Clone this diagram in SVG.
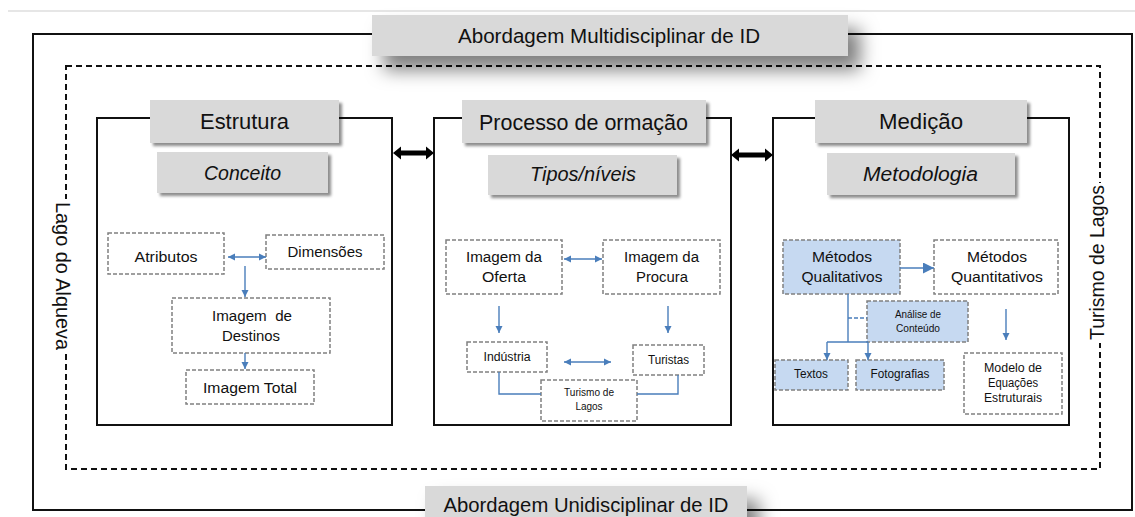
<svg xmlns="http://www.w3.org/2000/svg" width="1135" height="517" viewBox="0 0 1135 517">
<style>
text{font-family:"Liberation Sans",Arial,sans-serif;fill:#111;text-anchor:middle}
.frame{fill:none;stroke:#111;stroke-width:2}
.dashframe{fill:none;stroke:#111;stroke-width:2;stroke-dasharray:6 4}
.panel{fill:#fff;stroke:#111;stroke-width:2}
.title{fill:#d9d9d9}
.box{fill:#fff;stroke:#808080;stroke-width:1.5;stroke-dasharray:4 2}
.bbox{fill:#c6d9f1;stroke:#808080;stroke-width:1.5;stroke-dasharray:4 2}
.ln{fill:none;stroke:#4a7ebb;stroke-width:1.4}
.arr{marker-end:url(#ah)}
.dbl{marker-start:url(#ah);marker-end:url(#ah)}
.t21{font-size:21.5px}
.t20{font-size:20.5px}
.it{font-size:20px;font-style:italic}
.m{font-size:15.5px}
.s{font-size:12px}
.xs{font-size:10px}
</style>
<defs>
<marker id="ah" viewBox="0 0 10 10" refX="10" refY="5" markerWidth="7" markerHeight="8" orient="auto-start-reverse" markerUnits="userSpaceOnUse"><path d="M0,0L10,5L0,10z" fill="#4a7ebb"/></marker>
<marker id="ahb" viewBox="0 0 10 10" refX="10" refY="5" markerWidth="11" markerHeight="11" orient="auto" markerUnits="userSpaceOnUse"><path d="M0,0L10,5L0,10z" fill="#4a7ebb"/></marker>
<filter id="sh" x="-10%" y="-30%" width="130%" height="180%"><feDropShadow dx="3" dy="3" stdDeviation="1.5" flood-color="#000" flood-opacity="0.45"/></filter>
<filter id="bigsh" x="-20%" y="-60%" width="150%" height="300%"><feDropShadow dx="12" dy="14" stdDeviation="9" flood-color="#000" flood-opacity="0.5"/></filter>
</defs>
<rect x="0" y="0" width="1135" height="517" fill="#fff"/>
<line x1="8" y1="11" x2="1135" y2="11" stroke="#e6e6e6" stroke-width="2"/>
<g id="frames">
<rect class="frame" x="33" y="34" width="1099" height="476"/>
<rect class="dashframe" x="66" y="66" width="1034" height="403"/>
</g>
<g id="panel-estrutura">
<rect class="panel" x="97" y="118" width="295" height="307"/>
<rect class="title" x="150" y="100" width="189" height="43" filter="url(#sh)"/>
<text class="t21" x="244.5" y="129" textLength="89" lengthAdjust="spacingAndGlyphs">Estrutura</text>
<rect class="title" x="157" y="152" width="171" height="41" filter="url(#sh)"/>
<text class="it" x="242.5" y="180" textLength="77" lengthAdjust="spacingAndGlyphs">Conceito</text>
</g>
<g id="panel-processo">
<rect class="panel" x="434" y="118" width="297" height="307"/>
<rect class="title" x="462" y="100" width="244" height="43" filter="url(#sh)"/>
<text class="t21" x="583.5" y="130" textLength="209" lengthAdjust="spacingAndGlyphs">Processo de ormação</text>
<rect class="title" x="488" y="155" width="189" height="40" filter="url(#sh)"/>
<text class="it" x="583" y="181" textLength="106" lengthAdjust="spacingAndGlyphs">Tipos/níveis</text>
</g>
<g id="panel-medicao">
<rect class="panel" x="773" y="118" width="296" height="307"/>
<rect class="title" x="815" y="100" width="212" height="43" filter="url(#sh)"/>
<text class="t21" x="921" y="129" textLength="84" lengthAdjust="spacingAndGlyphs">Medição</text>
<rect class="title" x="827" y="153" width="188" height="42" filter="url(#sh)"/>
<text class="it" x="920.5" y="181" textLength="115" lengthAdjust="spacingAndGlyphs">Metodologia</text>
</g>
<g id="multi">
<rect class="title" x="372" y="15" width="476" height="41" filter="url(#bigsh)"/>
<text class="t20" x="609" y="43" textLength="302" lengthAdjust="spacingAndGlyphs">Abordagem Multidisciplinar de ID</text>
</g>
<g id="uni">
<rect class="title" x="425" y="486" width="322" height="40" filter="url(#bigsh)"/>
<text class="t20" x="586" y="512" textLength="285" lengthAdjust="spacingAndGlyphs">Abordagem Unidisciplinar de ID</text>
</g>
<g id="lago">
<rect x="54" y="199" width="24" height="153" fill="#fff"/>
<text font-size="20" transform="translate(63,276) rotate(90)" y="7" textLength="148" lengthAdjust="spacingAndGlyphs">Lago do Alqueva</text>
</g>
<g id="turismo-lagos">
<rect x="1086" y="183" width="24" height="160" fill="#fff"/>
<text font-size="20" transform="translate(1097,262.5) rotate(-90)" y="7" textLength="155" lengthAdjust="spacingAndGlyphs">Turismo de Lagos</text>
</g>
<g id="n-atributos"><rect class="box" x="108" y="233" width="116" height="41"/><text class="m" x="166" y="262" textLength="63" lengthAdjust="spacingAndGlyphs">Atributos</text></g>
<g id="n-dimensoes"><rect class="box" x="266" y="235" width="118" height="34"/><text class="m" x="325" y="257" textLength="75" lengthAdjust="spacingAndGlyphs">Dimensões</text></g>
<g id="n-destinos"><rect class="box" x="172" y="298" width="158" height="55"/><text class="m" x="252" y="321" textLength="80" lengthAdjust="spacingAndGlyphs" xml:space="preserve">Imagem  de</text><text class="m" x="251" y="341" textLength="58" lengthAdjust="spacingAndGlyphs">Destinos</text></g>
<g id="n-total"><rect class="box" x="186" y="370" width="128" height="34"/><text class="m" x="250" y="393" textLength="94" lengthAdjust="spacingAndGlyphs">Imagem Total</text></g>
<g id="n-oferta"><rect class="box" x="446" y="240" width="116" height="54"/><text class="m" x="504" y="262" textLength="76" lengthAdjust="spacingAndGlyphs">Imagem da</text><text class="m" x="504" y="282" textLength="44" lengthAdjust="spacingAndGlyphs">Oferta</text></g>
<g id="n-procura"><rect class="box" x="603" y="240" width="117" height="54"/><text class="m" x="661.5" y="262" textLength="75" lengthAdjust="spacingAndGlyphs">Imagem da</text><text class="m" x="662" y="282" textLength="52" lengthAdjust="spacingAndGlyphs">Procura</text></g>
<g id="n-industria"><rect class="box" x="467" y="342" width="80" height="30"/><text class="s" x="507" y="361" textLength="47" lengthAdjust="spacingAndGlyphs">Indústria</text></g>
<g id="n-turistas"><rect class="box" x="633" y="345" width="71" height="30"/><text class="s" x="668.5" y="364" textLength="41" lengthAdjust="spacingAndGlyphs">Turistas</text></g>
<g id="n-turismolagos"><rect class="box" x="541" y="380" width="96" height="41"/><text class="xs" x="589" y="396" textLength="50" lengthAdjust="spacingAndGlyphs">Turismo de</text><text class="xs" x="589" y="410">Lagos</text></g>
<g id="n-qualitativos"><rect class="bbox" x="783" y="240" width="117" height="54"/><text class="m" x="842" y="262" textLength="60" lengthAdjust="spacingAndGlyphs">Métodos</text><text class="m" x="842" y="282" textLength="81" lengthAdjust="spacingAndGlyphs">Qualitativos</text></g>
<g id="n-quantitativos"><rect class="box" x="934" y="240" width="124" height="54"/><text class="m" x="997" y="262" textLength="60" lengthAdjust="spacingAndGlyphs">Métodos</text><text class="m" x="997" y="282" textLength="92" lengthAdjust="spacingAndGlyphs">Quantitativos</text></g>
<g id="n-analise"><rect class="bbox" x="867" y="301" width="101" height="41"/><text class="xs" x="918" y="318" textLength="46" lengthAdjust="spacingAndGlyphs">Análise de</text><text class="xs" x="918" y="332" textLength="44" lengthAdjust="spacingAndGlyphs">Conteúdo</text></g>
<g id="n-textos"><rect class="bbox" x="775" y="360" width="73" height="30"/><text class="s" x="811" y="378" textLength="34" lengthAdjust="spacingAndGlyphs">Textos</text></g>
<g id="n-fotografias"><rect class="bbox" x="856" y="360" width="88" height="30"/><text class="s" x="900" y="378" textLength="59" lengthAdjust="spacingAndGlyphs">Fotografias</text></g>
<g id="n-modelo"><rect class="box" x="964" y="353" width="98" height="61"/><text class="s" x="1013" y="372" textLength="58" lengthAdjust="spacingAndGlyphs">Modelo de</text><text class="s" x="1013" y="387" textLength="50" lengthAdjust="spacingAndGlyphs">Equações</text><text class="s" x="1013" y="402" textLength="58" lengthAdjust="spacingAndGlyphs">Estruturais</text></g>
<g id="connectors">
<polygon fill="#000" points="393,153 401,146.5 401,150.5 426,150.5 426,146.5 434,153 426,159.5 426,155.5 401,155.5 401,159.5"/>
<polygon fill="#000" points="731,155 739,148.5 739,152.5 765,152.5 765,148.5 773,155 765,161.5 765,157.5 739,157.5 739,161.5"/>
<line class="ln dbl" x1="228" y1="257" x2="266" y2="257"/>
<line class="ln arr" x1="245" y1="266" x2="245" y2="297"/>
<line class="ln arr" x1="245" y1="353" x2="245" y2="369"/>
<line class="ln dbl" x1="564" y1="259" x2="602" y2="259"/>
<line class="ln arr" x1="499" y1="306" x2="499" y2="333"/>
<line class="ln arr" x1="668" y1="306" x2="668" y2="333"/>
<line class="ln dbl" x1="564" y1="362" x2="611" y2="362"/>
<polyline class="ln" points="499,372 499,394 541,394"/>
<polyline class="ln" points="678,375 678,394 637,394"/>
<line class="ln" x1="900" y1="268" x2="934" y2="268" marker-end="url(#ahb)"/>
<line class="ln" x1="848" y1="294" x2="848" y2="342"/>
<line class="ln" x1="848" y1="318" x2="867" y2="318" stroke-dasharray="4 2"/>
<line class="ln" x1="827" y1="342" x2="868" y2="342"/>
<line class="ln arr" x1="827" y1="342" x2="827" y2="360"/>
<line class="ln arr" x1="868" y1="342" x2="868" y2="360"/>
<line class="ln arr" x1="1006" y1="309" x2="1006" y2="340"/>
</g>
</svg>
